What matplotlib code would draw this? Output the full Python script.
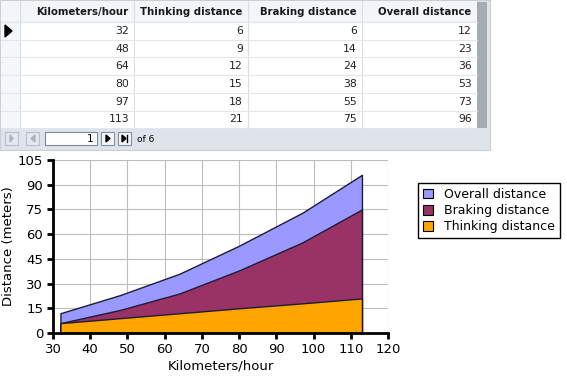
# Stopping distance chart with the data grid shown above it

import matplotlib.pyplot as plt
from matplotlib.patches import Rectangle, Patch, Polygon

kmh = [32, 48, 64, 80, 97, 113]
thinking = [6, 9, 12, 15, 18, 21]
braking = [6, 14, 24, 38, 55, 75]
overall = [12, 23, 36, 53, 73, 96]
columns = ["Kilometers/hour", "Thinking distance", "Braking distance", "Overall distance"]
x_ticks = [30, 40, 50, 60, 70, 80, 90, 100, 110, 120]
y_ticks = [0, 15, 30, 45, 60, 75, 90, 105]

W, H = 567, 378
fig = plt.figure(figsize=(W / 100, H / 100), dpi=100)

# ---- grid widget drawn in pixel coordinates ----
bg = fig.add_axes([0, 0, 1, 1])
bg.set_xlim(0, W)
bg.set_ylim(H, 0)
bg.axis("off")

bg.add_patch(Rectangle((0, 0), 490, 150, facecolor="#dfe3ea", edgecolor="#c8cdd6", lw=0.8))
bg.add_patch(Rectangle((1, 1), 476, 127, facecolor="white", edgecolor="none"))
# header row
bg.add_patch(Rectangle((1, 1), 476, 21, facecolor="#f2f5fa", edgecolor="none"))
bg.plot([1, 477], [22, 22], color="#c5ccd8", lw=0.8)
# row header column
bg.add_patch(Rectangle((1, 22), 19, 106, facecolor="#f4f7fc", edgecolor="none"))
# scrollbar
bg.add_patch(Rectangle((477, 2), 10, 126, facecolor="#a6aab1", edgecolor="none"))

col_edges = [20, 134, 248, 362, 477]
row_top = 22
row_h = 17.7
for xe in col_edges[:-1]:
    bg.plot([xe, xe], [1, 128], color="#d9dde4", lw=0.8)
for i in range(len(kmh) + 1):
    yy = row_top + i * row_h
    bg.plot([1, 477], [yy, yy], color="#e3e6eb", lw=0.8)

for j, name in enumerate(columns):
    bg.text(col_edges[j + 1] - 6, 12, name, ha="right", va="center",
            fontsize=7.3, fontweight="bold", color="#1a1a1a")

table_cols = [kmh, thinking, braking, overall]
for i in range(len(kmh)):
    yc = row_top + (i + 0.5) * row_h
    for j, col in enumerate(table_cols):
        bg.text(col_edges[j + 1] - 5, yc, str(col[i]), ha="right", va="center",
                fontsize=7.8, color="#222222")

# current-row arrow
bg.add_patch(Polygon([[5, 25], [5, 37], [12, 31]], closed=True, color="black"))

# navigator bar
for x0 in [5, 26]:
    bg.add_patch(Rectangle((x0, 132), 13, 13, facecolor="#e4e8ee", edgecolor="#b9bfc9", lw=0.8))
bg.add_patch(Rectangle((45, 132), 52, 13, facecolor="white", edgecolor="#7f8896", lw=0.8))
bg.text(93, 138.5, "1", ha="right", va="center", fontsize=7.5)
for x0 in [101, 118]:
    bg.add_patch(Rectangle((x0, 132), 13, 13, facecolor="#f4f6fa", edgecolor="#8390a6", lw=0.8))
bg.add_patch(Polygon([[10, 135], [10, 142], [13, 138.5]], closed=True, color="#b0b5bd"))
bg.add_patch(Polygon([[35, 135], [35, 142], [31, 138.5]], closed=True, color="#b0b5bd"))
bg.add_patch(Polygon([[106, 135], [106, 142], [110, 138.5]], closed=True, color="black"))
bg.add_patch(Polygon([[122, 135], [122, 142], [126, 138.5]], closed=True, color="black"))
bg.plot([127, 127], [135, 142], color="black", lw=1)
bg.text(137, 139, "of " + str(len(kmh)), ha="left", va="center", fontsize=6.5)

# ---- area chart ----
ax = fig.add_axes([53 / W, 1 - 333 / H, 335 / W, 173 / H])
ax.patch.set_alpha(0)
edge = "#1c1c3a"
ax.fill_between(kmh, overall, color="#9999ff", edgecolor=edge, lw=1, zorder=2)
ax.fill_between(kmh, braking, color="#993366", edgecolor=edge, lw=1, zorder=3)
ax.fill_between(kmh, thinking, color="#ffa500", edgecolor=edge, lw=1, zorder=4)

ax.set_xlim(30, 120)
ax.set_ylim(0, 105)
ax.set_xticks(x_ticks)
ax.set_yticks(y_ticks)
ax.grid(True, color="#bdbdbd", lw=0.8)
ax.set_axisbelow(True)
for s in ["top", "right"]:
    ax.spines[s].set_visible(False)
for s in ["left", "bottom"]:
    ax.spines[s].set_linewidth(2)
    ax.spines[s].set_zorder(5)
ax.tick_params(direction="out", length=4, width=2, labelsize=9.5, pad=3)
ax.set_xlabel("Kilometers/hour", fontsize=9.5, labelpad=3)
ax.set_ylabel("Distance (meters)", fontsize=9.5, labelpad=2)

handles = [Patch(facecolor="#9999ff", edgecolor="black", lw=0.8),
           Patch(facecolor="#993366", edgecolor="black", lw=0.8),
           Patch(facecolor="#ffa500", edgecolor="black", lw=0.8)]
leg = fig.legend(handles, ["Overall distance", "Braking distance", "Thinking distance"],
                 loc="upper left", bbox_to_anchor=(418 / W, 1 - 183 / H),
                 fontsize=9, frameon=True, fancybox=False, framealpha=1,
                 handlelength=0.8, handleheight=0.8, handletextpad=0.9,
                 labelspacing=0.25, borderpad=0.4, borderaxespad=0)
leg.get_frame().set_edgecolor("black")
leg.get_frame().set_linewidth(1)

fig.savefig("out.png", dpi=100)
